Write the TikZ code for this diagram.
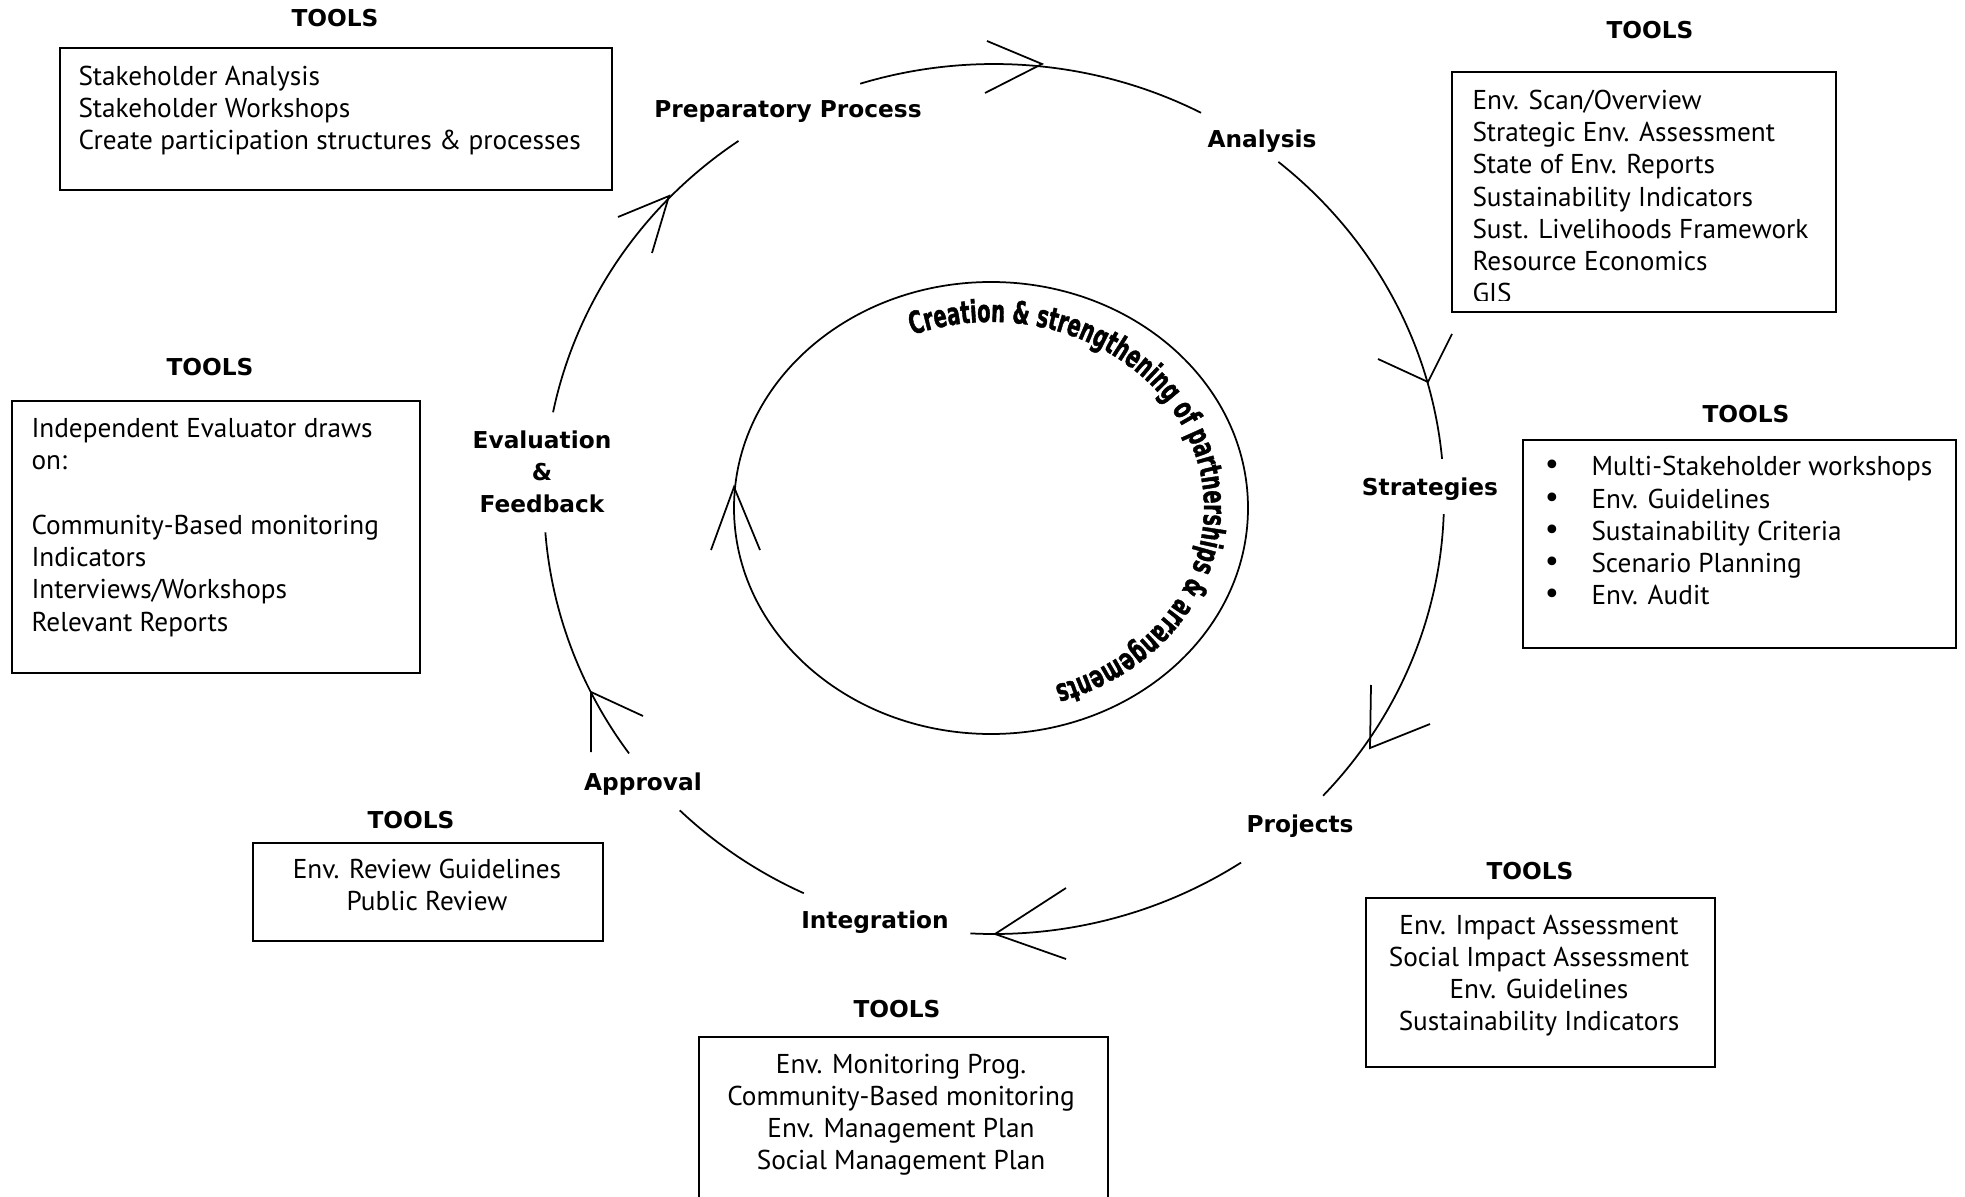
\documentclass[tikz,border=0pt]{standalone}
\usepackage{fontspec}
\setmainfont{PT Sans}
\newfontfamily\labelfont{DejaVu Sans}
\newfontfamily\arcfont{DejaVu Sans}[FakeStretch=0.63,FakeBold=1.2]
\usetikzlibrary{calc,decorations.text}
\newcommand\tbullet{\makebox[25.6pt][l]{\hspace{6.2pt}{\labelfont\fontsize{12}{12}\selectfont\char"2022}}}

\begin{document}
\begin{tikzpicture}[x=0.4pt,y=-0.4pt,
  stage/.style={font=\labelfont\bfseries\fontsize{9.3}{12.8}\selectfont, inner sep=0pt, anchor=base},
  toolhead/.style={font=\labelfont\bfseries\fontsize{9.3}{12}\selectfont, inner sep=0pt, anchor=base},
  toolbox/.style={draw, line width=0.9pt, inner sep=0pt, anchor=north west},
  tooltext/.style={font=\fontsize{10.9}{12.9}\selectfont, inner sep=0pt},
  flow/.style={line width=0.7pt},
  barb/.style={line width=0.7pt},
]
\useasboundingbox (0,0) rectangle (1965,1197);
\fill[white] (0,0) rectangle (1965,1197);

% centres of the outer cycle and of the inner partnership loop
\coordinate (oc) at (994,499);
\coordinate (ic) at (991,508);

% ---------- stage labels ----------
\node[stage] (prep)  at (788,118) {Preparatory Process};
\node[stage] (anal)  at (1262,148) {Analysis};
\node[stage] (strat) at (1430,496) {Strategies};
\node[stage] (proj)  at (1300,832) {Projects};
\node[stage] (integ) at (875,928) {Integration};
\node[stage] (appr)  at (643,790) {Approval};
\node[stage] (eval)  at (542,449) {\begin{tabular}[t]{@{}c@{}}Evaluation\\\&\\Feedback\end{tabular}};

% ---------- outer cycle arcs ----------
\draw[flow] ($(oc)+(191.5:450 and 435)$) arc[start angle=191.5, end angle=235.4, x radius=450, y radius=435];
\draw[flow] ($(oc)+(-107.3:450 and 435)$) arc[start angle=-107.3, end angle=-62.6, x radius=450, y radius=435];
\draw[flow] ($(oc)+(-50.8:450 and 435)$) arc[start angle=-50.8, end angle=-5.3, x radius=450, y radius=435];
\draw[flow] ($(oc)+(2:450 and 435)$) arc[start angle=2, end angle=43, x radius=450, y radius=435];
\draw[flow] ($(oc)+(56.7:450 and 435)$) arc[start angle=56.7, end angle=93, x radius=450, y radius=435];
\draw[flow] ($(oc)+(115:450 and 435)$) arc[start angle=115, end angle=134.3, x radius=450, y radius=435];
\draw[flow] ($(oc)+(144.2:450 and 435)$) arc[start angle=144.2, end angle=175.6, x radius=450, y radius=435];

% ---------- open arrowheads on the cycle ----------
\coordinate (h1) at (669,196);
\coordinate (h2) at (1042,64);
\coordinate (h3) at (1428,382);
\coordinate (h4) at (1370,748);
\coordinate (h5) at (995,934);
\coordinate (h6) at (591,692);
\coordinate (h7) at (734,487);
\draw[barb] ($(h1)+(-51,21)$) -- (h1) -- ($(h1)+(-17,57)$);
\draw[barb] ($(h2)+(-55,-23)$) -- (h2) -- ($(h2)+(-57,29)$);
\draw[barb] ($(h3)+(-50,-23)$) -- (h3) -- ($(h3)+(24,-48)$);
\draw[barb] ($(h4)+(1,-63)$) -- (h4) -- ($(h4)+(60,-24)$);
\draw[barb] ($(h5)+(71,-46)$) -- (h5) -- ($(h5)+(71,25)$);
\draw[barb] ($(h6)+(0,60)$) -- (h6) -- ($(h6)+(52,24)$);

% ---------- inner loop ----------
\draw[flow] (ic) ellipse [x radius=257, y radius=226];
\draw[barb] ($(h7)+(-23,63)$) -- (h7) -- ($(h7)+(26,63)$);
\path[decorate, decoration={text along path, text align=center,
  text={|\arcfont\bfseries\fontsize{12.4}{13}\selectfont|Creation {\&} strengthening of partnerships {\&} arrangements}}]
  ($(ic)+(-110.5:213 and 186)$) arc[start angle=-110.5, end angle=71.5, x radius=213, y radius=186];

% ---------- tool boxes ----------
\node[toolhead] (th1) at (335,27) {TOOLS};
\node[toolbox, minimum width=220.8pt, minimum height=56.8pt] (tb1) at (59,47) {};
\node[tooltext, anchor=base west] (tt1) at (78,85.5) {\begin{tabular}[t]{@{}l@{}}Stakeholder Analysis\\Stakeholder Workshops\\Create participation structures \& processes\end{tabular}};

\node[toolhead] (th2) at (1650,39) {TOOLS};
\node[toolbox, minimum width=153.6pt, minimum height=96pt] (tb2) at (1451,71) {};
\begin{scope}
\clip (1451,71) rectangle (1835,301);
\node[tooltext, anchor=base west] (tt2) at (1472,109.5) {\begin{tabular}[t]{@{}l@{}}Env. Scan/Overview\\Strategic Env. Assessment\\State of Env. Reports\\Sustainability Indicators\\Sust. Livelihoods Framework\\Resource Economics\\GIS\end{tabular}};
\end{scope}

\node[toolhead] (th3) at (1746,423) {TOOLS};
\node[toolbox, minimum width=173.2pt, minimum height=83.2pt] (tb3) at (1522,439) {};
\node[tooltext, anchor=base west] (tt3) at (1527,476) {\begin{tabular}[t]{@{}l@{}}\tbullet Multi-Stakeholder workshops\\\tbullet Env. Guidelines\\\tbullet Sustainability Criteria\\\tbullet Scenario Planning\\\tbullet Env. Audit\end{tabular}};

\node[toolhead] (th4) at (210,376) {TOOLS};
\node[toolbox, minimum width=163.2pt, minimum height=108.8pt] (tb4) at (11,400) {};
\node[tooltext, anchor=base west] (tt4) at (31,437.5) {\begin{tabular}[t]{@{}l@{}}Independent Evaluator draws\\on:\\\mbox{}\\Community-Based monitoring\\Indicators\\Interviews/Workshops\\Relevant Reports\end{tabular}};

\node[toolhead] (th5) at (411,828) {TOOLS};
\node[toolbox, minimum width=140pt, minimum height=39.2pt] (tb5) at (252,842) {};
\node[tooltext, anchor=base] (tt5) at (427,878) {\begin{tabular}[t]{@{}c@{}}Env. Review Guidelines\\Public Review\end{tabular}};

\node[toolhead] (th6) at (897,1017) {TOOLS};
\node[toolbox, minimum width=163.6pt, minimum height=71.6pt] (tb6) at (698,1036) {};
\node[tooltext, anchor=base] (tt6) at (901,1073) {\begin{tabular}[t]{@{}c@{}}Env. Monitoring Prog.\\Community-Based monitoring\\Env. Management Plan\\Social Management Plan\end{tabular}};

\node[toolhead] (th7) at (1530,879) {TOOLS};
\node[toolbox, minimum width=139.6pt, minimum height=67.6pt] (tb7) at (1365,897) {};
\node[tooltext, anchor=base] (tt7) at (1539,934) {\begin{tabular}[t]{@{}c@{}}Env. Impact Assessment\\Social Impact Assessment\\Env. Guidelines\\Sustainability Indicators\end{tabular}};
\end{tikzpicture}
\end{document}
